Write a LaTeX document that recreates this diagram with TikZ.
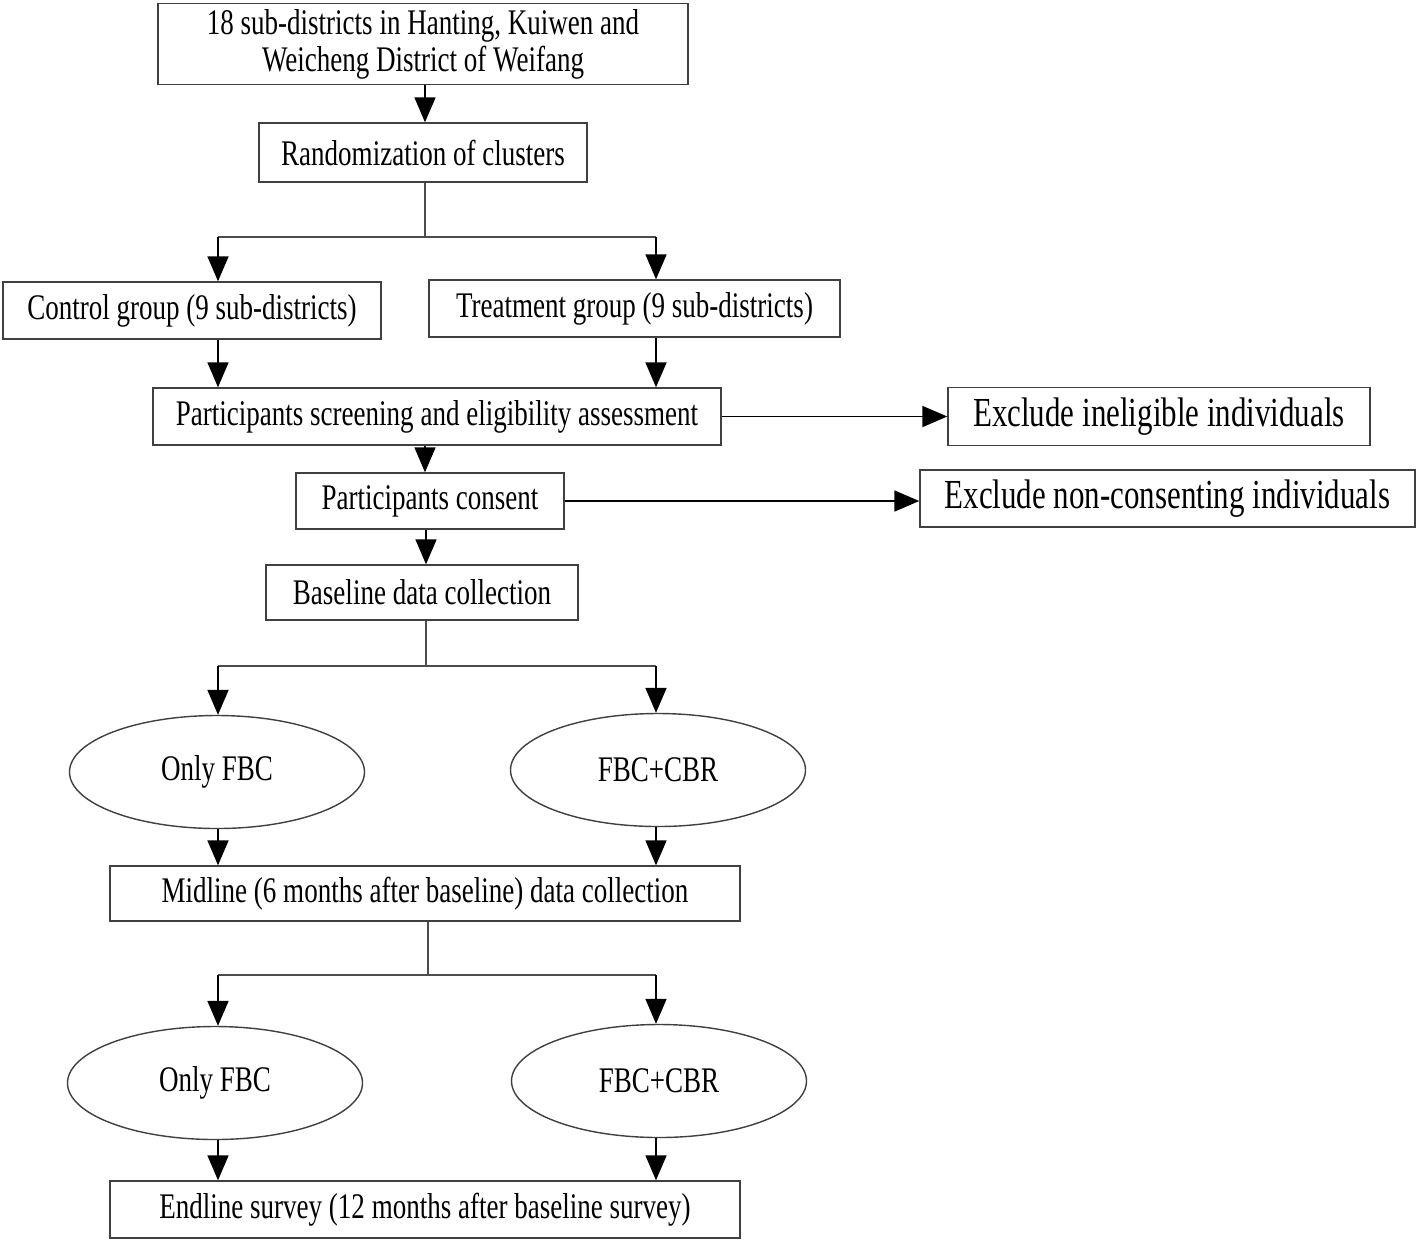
\documentclass[tikz,border=0pt]{standalone}
\usepackage{fontspec}
\setmainfont{Liberation Serif}[FakeStretch=0.75]
\usepackage{tikz}
\usetikzlibrary{arrows.meta,positioning,shapes.geometric}

\newcommand\mainsize{\fontsize{20.5pt}{21pt}\selectfont}
\newcommand\exclsize{\fontsize{23.5pt}{26pt}\selectfont}

\begin{document}
\begin{tikzpicture}[->,>={Triangle[length=5mm,width=4.2mm]},line width=1pt,
                    box/.style={draw=black!75,line width=0.8pt,align=center,inner sep=0pt,font=\mainsize},
                    oval/.style={ellipse,draw=black!75,line width=0.8pt,inner sep=0pt,
                                 minimum width=5.9cm,minimum height=2.26cm,font=\mainsize},
                    excl box/.style={box,font=\exclsize},
                    fork/.style={-,line width=0.6pt,draw=black!70}]

  \useasboundingbox (0,0) rectangle (28.32,-24.84);

  \node[box,minimum width=10.6cm,minimum height=1.62cm] (top) at (8.46,-0.88)
       {18 sub-districts in Hanting, Kuiwen and\\Weicheng District of Weifang};
  \node[box,minimum width=6.56cm,minimum height=1.18cm] (rand) [below of=top,node distance=2.17cm]
       {Randomization of clusters};

  \node[box,minimum width=7.56cm,minimum height=1.14cm] (control) at (3.84,-6.21) {Control group (9 sub-districts)};
  \node[box,minimum width=8.22cm,minimum height=1.14cm] (treat) at (12.69,-6.17) {Treatment group (9 sub-districts)};

  \node[box,minimum width=11.36cm,minimum height=1.14cm] (screen) at (8.74,-8.33)
       {Participants screening and eligibility assessment};
  \node[excl box,minimum width=8.44cm,minimum height=1.16cm] (inelig) [right of=screen,node distance=14.44cm]
       {Exclude ineligible individuals};
  \node[box,minimum width=5.36cm,minimum height=1.12cm] (consent) at (8.6,-10.02) {Participants consent};
  \node[excl box,minimum width=9.9cm,minimum height=1.14cm] (noncons) at (23.35,-9.97)
       {Exclude non-consenting individuals};
  \node[box,minimum width=6.24cm,minimum height=1.1cm] (base) at (8.44,-11.85) {Baseline data collection};

  \node[oval] (fbcA) at (4.34,-15.44) {Only FBC};
  \node[oval] (cbrA) at (13.16,-15.4) {FBC+CBR};
  \node[box,minimum width=12.6cm,minimum height=1.1cm] (mid) at (8.5,-17.87)
       {Midline (6 months after baseline) data collection};

  \node[oval] (fbcB) at (4.3,-21.66) {Only FBC};
  \node[oval] (cbrB) at (13.18,-21.62) {FBC+CBR};
  \node[box,minimum width=12.6cm,minimum height=1.14cm] (end) at (8.5,-24.19)
       {Endline survey (12 months after baseline survey)};

  % fork points
  \coordinate (randfork) at (8.5,-4.74);
  \coordinate (randL) at (4.36,-4.74);
  \coordinate (randR) at (13.12,-4.74);
  \coordinate (basefork) at (8.52,-13.32);
  \coordinate (baseL) at (4.36,-13.32);
  \coordinate (baseR) at (13.12,-13.32);
  \coordinate (midfork) at (8.56,-19.5);
  \coordinate (midL) at (4.36,-19.5);
  \coordinate (midR) at (13.12,-19.5);

  \draw (top.south -| randfork) -- (rand.north -| randfork);
  \draw[fork] (rand.south -| randfork) -- (randfork);
  \draw[fork] (randL) -- (randR);
  \draw (randL) -- (randL |- control.north);
  \draw (randR) -- (randR |- treat.north);
  \draw (control.south -| randL) -- (screen.north -| randL);
  \draw (treat.south -| randR) -- (screen.north -| randR);

  \draw (screen.east) -- (screen.east -| inelig.west);
  \draw (screen.south -| randfork) -- (consent.north -| randfork);
  \draw (consent.east) -- (consent.east -| noncons.west);
  \draw (consent.south -| basefork) -- (base.north -| basefork);

  \draw[fork] (base.south -| basefork) -- (basefork);
  \draw[fork] (baseL) -- (baseR);
  \draw (baseL) -- (baseL |- fbcA.north);
  \draw (baseR) -- (baseR |- cbrA.north);
  \draw (fbcA.south -| baseL) -- (mid.north -| baseL);
  \draw (cbrA.south -| baseR) -- (mid.north -| baseR);

  \draw[fork] (mid.south -| midfork) -- (midfork);
  \draw[fork] (midL) -- (midR);
  \draw (midL) -- (midL |- fbcB.north);
  \draw (midR) -- (midR |- cbrB.north);
  \draw (fbcB.south -| midL) -- (end.north -| midL);
  \draw (cbrB.south -| midR) -- (end.north -| midR);
\end{tikzpicture}
\end{document}
